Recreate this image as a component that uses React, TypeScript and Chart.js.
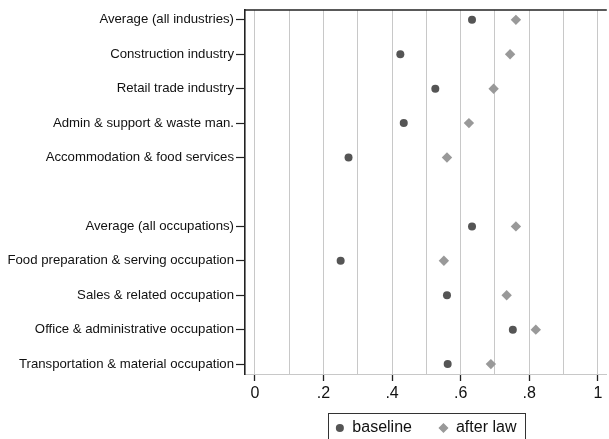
import React, { useEffect, useRef } from "react";
import { Chart, registerables } from "chart.js";

Chart.register(...registerables);

const categories = [
  "Average (all industries)",
  "Construction industry",
  "Retail trade industry",
  "Admin & support & waste man.",
  "Accommodation & food services",
  "",
  "Average (all occupations)",
  "Food preparation & serving occupation",
  "Sales & related occupation",
  "Office & administrative occupation",
  "Transportation & material occupation",
];

const baseline: (number | null)[] = [0.633, 0.424, 0.526, 0.434, 0.273, null, 0.633, 0.25, 0.56, 0.752, 0.562];
const afterLaw: (number | null)[] = [0.761, 0.744, 0.696, 0.624, 0.56, null, 0.761, 0.551, 0.734, 0.819, 0.688];

const seriesNames = ["baseline", "after law"];

const xGridValues = [0, 0.1, 0.2, 0.3, 0.4, 0.5, 0.6, 0.7, 0.8, 0.9, 1];
const xTickValues = [0, 0.2, 0.4, 0.6, 0.8, 1];
const xTickLabels = ["0", ".2", ".4", ".6", ".8", "1"];

const FONT = "'Liberation Sans', Arial, sans-serif";

function labelFor(v: number): string {
  const i = xTickValues.findIndex((t) => Math.abs(t - v) < 1e-9);
  return i >= 0 ? xTickLabels[i] : "";
}

const toPoints = (vals: (number | null)[]) =>
  vals
    .map((v, i) => (v === null ? null : { x: v, y: i }))
    .filter((p): p is { x: number; y: number } => p !== null);

const framePlugin = {
  id: "frameAndLegendBox",
  afterDraw(chart: any) {
    const { ctx, chartArea } = chart;
    ctx.save();
    ctx.strokeStyle = "#222";
    ctx.lineWidth = 1.5;
    ctx.beginPath();
    ctx.moveTo(chartArea.left, chartArea.top);
    ctx.lineTo(chartArea.right, chartArea.top);
    ctx.stroke();
    const hb = chart.legend?.legendHitBoxes;
    if (hb && hb.length) {
      const left = Math.min(...hb.map((b: any) => b.left)) - 7;
      const right = Math.max(...hb.map((b: any) => b.left + b.width)) + 9;
      const top = Math.min(...hb.map((b: any) => b.top)) - 7;
      const bottom = Math.max(...hb.map((b: any) => b.top + b.height)) + 7;
      ctx.lineWidth = 1;
      ctx.strokeStyle = "#333";
      ctx.strokeRect(Math.round(left) + 0.5, Math.round(top) + 0.5, Math.round(right - left), Math.round(bottom - top));
    }
    ctx.restore();
  },
};

export default function App() {
  const ref = useRef<HTMLCanvasElement>(null);

  useEffect(() => {
    if (!ref.current) return;
    Chart.defaults.font.family = FONT;
    const defaultGen = Chart.defaults.plugins.legend.labels.generateLabels;
    const chart = new Chart(ref.current, {
      type: "scatter",
      data: {
        datasets: [
          {
            label: seriesNames[0],
            data: toPoints(baseline),
            pointStyle: "circle",
            pointRadius: 4,
            backgroundColor: "#555555",
            borderColor: "#555555",
            borderWidth: 0,
          },
          {
            label: seriesNames[1],
            data: toPoints(afterLaw),
            pointStyle: "rectRot",
            pointRadius: 5.2,
            backgroundColor: "#999999",
            borderColor: "#999999",
            borderWidth: 0,
          },
        ],
      },
      options: {
        responsive: false,
        animation: false,
        events: [],
        layout: { padding: { top: 7, left: 0, right: 2, bottom: 0 } },
        plugins: {
          tooltip: { enabled: false },
          legend: {
            position: "bottom",
            fullSize: false,
            labels: {
              usePointStyle: true,
              boxWidth: 9,
              boxHeight: 5.7,
              padding: 27,
              color: "#111",
              font: { size: 16, family: FONT },
              generateLabels: (c: any) => {
                const items = defaultGen(c);
                items.forEach((it: any, i: number) => {
                  it.lineWidth = i === 1 ? 1.4 : 0;
                  it.strokeStyle = it.fillStyle;
                });
                return items;
              },
            },
          },
        },
        scales: {
          x: {
            type: "linear",
            min: -0.0289,
            max: 1.026,
            afterBuildTicks: (scale: any) => {
              scale.ticks = xGridValues.map((v) => ({ value: v }));
            },
            afterFit: (scale: any) => {
              scale.height = 19;
              // let the tick labels extend below the (compact) axis box
              scale._computeLabelArea = () => undefined;
            },
            ticks: {
              autoSkip: false,
              maxRotation: 0,
              padding: 3,
              color: "#111",
              font: { size: 16, family: FONT },
              callback: (v: any) => labelFor(Number(v)),
            },
            grid: {
              color: "#c8c8c8",
              lineWidth: 1,
              drawTicks: true,
              tickLength: 7,
              tickWidth: 1.3,
              tickColor: (ctx: any) => (labelFor(ctx.tick?.value ?? -1) ? "#222" : "rgba(0,0,0,0)"),
            },
            border: { display: true, color: "#c8c8c8", width: 1 },
          },
          y: {
            type: "linear",
            reverse: true,
            min: -0.288,
            max: categories.length - 1 + 0.288,
            afterBuildTicks: (scale: any) => {
              scale.ticks = categories
                .map((c, i) => (c ? { value: i } : null))
                .filter((t) => t !== null);
            },
            afterFit: (scale: any) => {
              scale.width = 245;
            },
            ticks: {
              autoSkip: false,
              padding: 2,
              color: "#111",
              font: { size: 13.2, family: FONT },
              callback: (v: any) => categories[Math.round(Number(v))] ?? "",
            },
            grid: {
              drawOnChartArea: false,
              drawTicks: true,
              tickLength: 9,
              tickWidth: 1.2,
              tickColor: "#222",
            },
            border: { display: true, color: "#222", width: 1.6 },
          },
        },
      },
      plugins: [framePlugin],
    } as any);
    return () => chart.destroy();
  }, []);

  return (
    <div
      style={{
        position: "fixed",
        left: 0,
        top: 0,
        width: 609,
        height: 439,
        overflow: "hidden",
        background: "#fff",
      }}
    >
      <canvas ref={ref} width={612} height={446} style={{ display: "block", width: 612, height: 446 }} />
    </div>
  );
}
